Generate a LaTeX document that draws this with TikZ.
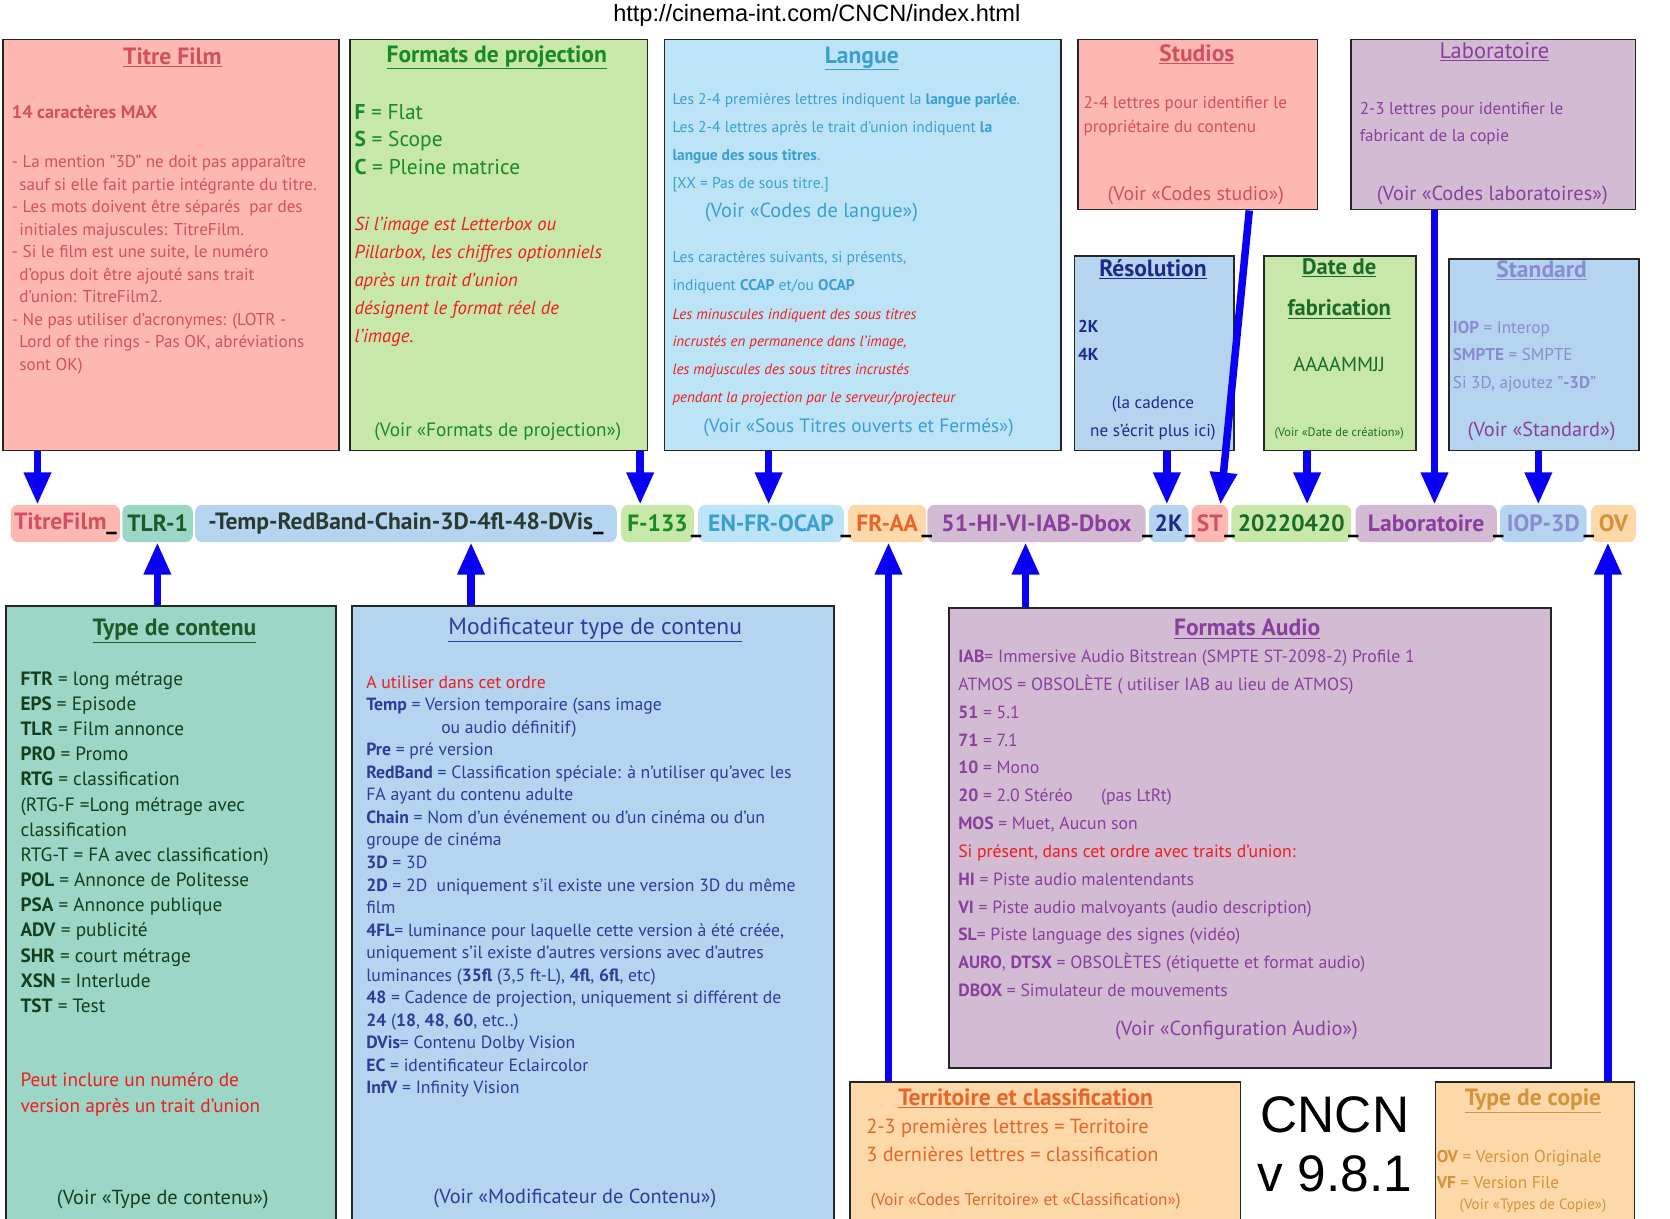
\documentclass[tikz,border=0pt]{standalone}
\usepackage{fontspec}
\setmainfont{PT Sans}
\newfontfamily\arialf{Liberation Sans}
\usetikzlibrary{arrows.meta,calc}
\definecolor{cSal}{HTML}{FDB9B1}\definecolor{tSal}{HTML}{D24F62}
\definecolor{cGrn}{HTML}{C8E8AA}\definecolor{tGrn}{HTML}{178A25}
\definecolor{cLbl}{HTML}{BDE3F6}\definecolor{tLbl}{HTML}{3A9FCF}
\definecolor{cPur}{HTML}{D3BBD4}\definecolor{tPur}{HTML}{8A3E9E}
\definecolor{cBlu}{HTML}{B4D4EF}\definecolor{tNav}{HTML}{1E2A86}
\definecolor{tDgr}{HTML}{1A6B2A}\definecolor{tStd}{HTML}{8A8CCF}
\definecolor{cTea}{HTML}{9CD6C7}\definecolor{tTea}{HTML}{1E5A28}
\definecolor{tMod}{HTML}{2C3C98}
\definecolor{cOrg}{HTML}{FDD8A8}\definecolor{tOrg}{HTML}{E8642B}\definecolor{tCop}{HTML}{D4923A}
\definecolor{tRed}{HTML}{EE1C1C}\definecolor{tBar}{HTML}{2A3A30}
\definecolor{aBlue}{HTML}{0A00F5}
\tikzset{
 x=1pt,y=-1pt,
 box/.style={draw=black!85,line width=1.6pt,anchor=north west,inner sep=0},
 ttl/.style={font=\fontsize{22}{26}\selectfont\bfseries,anchor=base,inner sep=0},
 txt/.style={align=left,anchor=base west,inner sep=0},
 txtm/.style={align=left,anchor=north west,inner sep=0},
 seg/.style={rounded corners=7pt,minimum height=35pt,anchor=west,inner sep=0,font=\fontsize{22}{26}\selectfont\bfseries},
 arr/.style={draw=aBlue,line width=7pt,-{Triangle[width=24pt,length=30pt]}},
}
\begin{document}
\begin{tikzpicture}
\useasboundingbox (0,0) rectangle (1560,1138);
\node[font=\arialf\fontsize{22}{26}\selectfont,anchor=base] (url) at (763,20) {http://cinema-int.com/CNCN/index.html};
% boxes
\node[box,fill=cSal,minimum width=314,minimum height=384] (tf) at (2,36) {};
\node[box,fill=cGrn,minimum width=278,minimum height=384] (fp) at (326,36) {};
\node[box,fill=cLbl,minimum width=370,minimum height=384] (la) at (620,36) {};
\node[box,fill=cSal,minimum width=224,minimum height=159] (st) at (1006,36) {};
\node[box,fill=cPur,minimum width=266,minimum height=159] (lb) at (1261,36) {};
\node[box,fill=cBlu,minimum width=149,minimum height=182] (rs) at (1003,238) {};
\node[box,fill=cGrn,minimum width=142,minimum height=182] (dt) at (1180,238) {};
\node[box,fill=cBlu,minimum width=177,minimum height=179] (sd) at (1353,241) {};
\node[box,fill=cTea,minimum width=308,minimum height=575] (tc) at (5,565) {};
\node[box,fill=cBlu,minimum width=450,minimum height=575] (mc) at (328,565) {};
\node[box,fill=cPur,minimum width=562,minimum height=430] (au) at (886,567) {};
\node[box,fill=cOrg,minimum width=365,minimum height=130] (tr) at (793,1010) {};
\node[box,fill=cOrg,minimum width=186,minimum height=130] (cp) at (1340,1010) {};
% Titre film
\node[ttl,text=tSal] (tft) at (161,60) {\underline{Titre Film}};
\node[txt,text=tSal,font=\fontsize{17}{21}\selectfont\bfseries] (tf1) at (11,111) {14 caractères MAX};
\node[txtm,text=tSal,font=\fontsize{16}{21}\selectfont] (tf2) at (11,145) {- La mention "3D" ne doit pas apparaître\\
\hspace*{7pt}sauf si elle fait partie intégrante du titre.\\
- Les mots doivent être séparés \ par des\\
\hspace*{7pt}initiales majuscules: TitreFilm.\\
- Si le film est une suite, le numéro\\
\hspace*{7pt}d'opus doit être ajouté sans trait\\
\hspace*{7pt}d'union: TitreFilm2.\\
- Ne pas utiliser d’acronymes: (LOTR -\\
\hspace*{7pt}Lord of the rings - Pas OK, abréviations\\
\hspace*{7pt}sont OK)};
% Formats de projection
\node[ttl,text=tGrn] (fpt) at (464,58) {\underline{Formats de projection}};
\node[txtm,text=tGrn,font=\fontsize{20}{26}\selectfont] (fp1) at (331,97) {\textbf{F} = Flat\\\textbf{S} = Scope\\\textbf{C} = Pleine matrice};
\node[txtm,text=tRed,font=\fontsize{17.5}{26}\selectfont\itshape] (fp2) at (331,203) {Si l’image est Letterbox ou\\Pillarbox, les chiffres optionniels\\après un trait d'union\\désignent le format réel de\\l'image.};
\node[text=tGrn,font=\fontsize{18}{22}\selectfont,anchor=base,inner sep=0] (fp3) at (465,408) {(Voir «Formats de projection»)};
% Langue
\node[ttl,text=tLbl] (lat) at (805,59) {\underline{Langue}};
\node[txtm,text=tLbl,font=\fontsize{14.5}{26}\selectfont] (la1) at (628,87) {Les 2-4 premières lettres indiquent la \textbf{langue parlée}.\\Les 2-4 lettres après le trait d'union indiquent \textbf{la}\\\textbf{langue des sous titres}.\\{[XX = Pas de sous titre.]}};
\node[text=tLbl,font=\fontsize{19}{22}\selectfont,anchor=base,inner sep=0] (la2) at (758,203) {(Voir «Codes de langue»)};
\node[txtm,text=tLbl,font=\fontsize{14.5}{26}\selectfont] (la3) at (628,235) {Les caractères suivants, si présents,\\indiquent \textbf{CCAP} et/ou \textbf{OCAP}};
\node[txtm,text=tRed,font=\fontsize{14}{26}\selectfont\itshape] (la4) at (628,288) {Les minuscules indiquent des sous titres\\incrustés en permanence dans l'image,\\les majuscules des sous titres incrustés\\pendant la projection par le serveur/projecteur};
\node[text=tLbl,font=\fontsize{18}{22}\selectfont,anchor=base,inner sep=0] (la5) at (802,404) {(Voir «Sous Titres ouverts et Fermés»)};
% Studios
\node[ttl,text=tSal] (stt) at (1118,57) {\underline{Studios}};
\node[txtm,text=tSal,font=\fontsize{16}{22}\selectfont] (st1) at (1012,90) {2-4 lettres pour identifier le\\propriétaire du contenu};
\node[text=tSal,font=\fontsize{18.5}{22}\selectfont,anchor=base,inner sep=0] (st2) at (1117,187) {(Voir «Codes studio»)};
% Laboratoire
\node[ttl,text=tPur,font=\fontsize{21}{26}\selectfont] (lbt) at (1396,55) {\underline{Laboratoire}};
\node[txtm,text=tPur,font=\fontsize{16}{26}\selectfont] (lb1) at (1270,95) {2-3 lettres pour identifier le\\fabricant de la copie};
\node[text=tPur,font=\fontsize{19}{22}\selectfont,anchor=base,inner sep=0] (lb2) at (1394,187) {(Voir «Codes laboratoires»)};
% Resolution
\node[ttl,text=tNav] (rst) at (1077,258) {\underline{Résolution}};
\node[txtm,text=tNav,font=\fontsize{16}{26}\selectfont\bfseries] (rs1) at (1007,299) {2K\\4K};
\node[text=tNav,font=\fontsize{16}{26}\selectfont,align=center,anchor=north,inner sep=0] (rs2) at (1077,370) {(la cadence\\ne s’écrit plus ici)};
% Date
\node[text=tDgr,font=\fontsize{21}{39}\selectfont\bfseries,align=center,anchor=north,inner sep=0] (dtt) at (1251,241) {\underline{Date de}\\\underline{fabrication}};
\node[text=tDgr,font=\fontsize{19}{22}\selectfont,anchor=base,inner sep=0] (dt1) at (1251,347) {AAAAMMJJ};
\node[text=tDgr,font=\fontsize{11.5}{14}\selectfont,anchor=base,inner sep=0] (dt2) at (1251,408) {(Voir «Date de création»)};
% Standard
\node[ttl,text=tStd] (sdt) at (1440,259) {\underline{Standard}};
\node[txtm,text=tStd,font=\fontsize{16}{25.5}\selectfont] (sd1) at (1357,300) {\textbf{IOP} = Interop\\\textbf{SMPTE} = SMPTE\\Si 3D, ajoutez "\textbf{-3D}"};
\node[text=tPur,font=\fontsize{19}{22}\selectfont,anchor=base,inner sep=0] (sd2) at (1440,408) {(Voir «Standard»)};
% Type de contenu
\node[ttl,text=tTea] (tct) at (163,594) {\underline{Type de contenu}};
\node[txtm,text=tTea!70!black,font=\fontsize{18}{23.5}\selectfont] (tc1) at (19,627) {\textbf{FTR} = long métrage\\\textbf{EPS} = Episode\\\textbf{TLR} = Film annonce\\\textbf{PRO} = Promo\\\textbf{RTG} = classification\\(RTG-F =Long métrage avec\\classification\\RTG-T = FA avec classification)\\\textbf{POL} = Annonce de Politesse\\\textbf{PSA} = Annonce publique\\\textbf{ADV} = publicité\\\textbf{SHR} = court métrage\\\textbf{XSN} = Interlude\\\textbf{TST} = Test};
\node[txtm,text=tRed,font=\fontsize{18}{24}\selectfont] (tc2) at (19,1002) {Peut inclure un numéro de\\version après un trait d'union};
\node[text=tTea!70!black,font=\fontsize{19}{22}\selectfont,anchor=base,inner sep=0] (tc3) at (152,1125) {(Voir «Type de contenu»)};
% Modificateur
\node[text=tMod,font=\fontsize{22}{26}\selectfont,anchor=base,inner sep=0] (mct) at (556,593) {\underline{Modificateur type de contenu}};
\node[txt,text=tRed,font=\fontsize{16.5}{21}\selectfont] (mc0) at (342,643) {A utiliser dans cet ordre};
\node[txtm,text=tMod,font=\fontsize{16.5}{21.05}\selectfont] (mc1) at (342,652) {\textbf{Temp} = Version temporaire (sans image\\\hspace*{70pt}ou audio définitif)\\\textbf{Pre} = pré version\\\textbf{RedBand} = Classification spéciale: à n’utiliser qu’avec les\\FA ayant du contenu adulte\\\textbf{Chain} = Nom d’un événement ou d’un cinéma ou d’un\\groupe de cinéma\\\textbf{3D} = 3D\\\textbf{2D} = 2D \ uniquement s’il existe une version 3D du même\\film\\\textbf{4FL}= luminance pour laquelle cette version à été créée,\\uniquement s’il existe d’autres versions avec d’autres\\luminances (\textbf{35fl} (3,5 ft-L), \textbf{4fl}, \textbf{6fl}, etc)\\\textbf{48} = Cadence de projection, uniquement si différent de\\\textbf{24} (\textbf{18}, \textbf{48}, \textbf{60}, etc..)\\\textbf{DVis}= Contenu Dolby Vision\\\textbf{EC} = identificateur Eclaircolor\\\textbf{InfV} = Infinity Vision};
\node[text=tMod,font=\fontsize{19}{22}\selectfont,anchor=base,inner sep=0] (mc2) at (537,1124) {(Voir «Modificateur de Contenu»)};
% Audio
\node[ttl,text=tPur] (aut) at (1165,594) {\underline{Formats Audio}};
\node[txtm,text=tPur,font=\fontsize{16.5}{26}\selectfont] (au1) at (895,607) {\textbf{IAB}= Immersive Audio Bitstrean (SMPTE ST-2098-2) Profile 1\\ATMOS = OBSOLÈTE ( utiliser IAB au lieu de ATMOS)\\\textbf{51} = 5.1\\\textbf{71} = 7.1\\\textbf{10} = Mono\\\textbf{20} = 2.0 Stéréo \hspace{22pt}(pas LtRt)\\\textbf{MOS} = Muet, Aucun son\\\textcolor{tRed}{Si présent, dans cet ordre avec traits d'union:}\\\textbf{HI} = Piste audio malentendants\\\textbf{VI} = Piste audio malvoyants (audio description)\\\textbf{SL}= Piste language des signes (vidéo)\\\textbf{AURO}, \textbf{DTSX} = OBSOLÈTES (étiquette et format audio)\\\textbf{DBOX} = Simulateur de mouvements};
\node[text=tPur,font=\fontsize{19}{22}\selectfont,anchor=base,inner sep=0] (au2) at (1155,967) {(Voir «Configuration Audio»)};
% Territoire
\node[ttl,text=tOrg] (trt) at (958,1033) {\underline{Territoire et classification}};
\node[txtm,text=tOrg,font=\fontsize{19}{26}\selectfont] (tr1) at (809,1045) {2-3 premières lettres = Territoire\\3 dernières lettres = classification};
\node[text=tOrg,font=\fontsize{16}{20}\selectfont,anchor=base,inner sep=0] (tr2) at (958,1126) {(Voir «Codes Territoire» et «Classification»)};
% CNCN
\node[font=\arialf\fontsize{48}{55}\selectfont,align=center,anchor=north,inner sep=0] (cn) at (1247,1024) {CNCN\\v 9.8.1};
% Type de copie
\node[ttl,text=tCop] (cpt) at (1432,1033) {\underline{Type de copie}};
\node[txtm,text=tCop,font=\fontsize{16}{24.5}\selectfont] (cp1) at (1342,1074) {\textbf{OV} = Version Originale\\\textbf{VF} = Version File};
\node[text=tCop,font=\fontsize{14}{18}\selectfont,anchor=base,inner sep=0] (cp2) at (1432,1130) {(Voir «Types de Copie»)};
% bar
\node[seg,fill=cSal,text=tSal,minimum width=102] (s1) at (10,489) {TitreFilm\textcolor{black}{\_}};
\node[seg,fill=cTea,text=tTea,minimum width=66] (s2) at (114,489) {TLR-1};
\node[seg,fill=cBlu,text=tBar,minimum width=394] (s3) at (182,489) {-Temp-RedBand-Chain-3D-4fl-48-DVis\textcolor{black}{\_}};
\node[seg,fill=cGrn,text=tGrn,minimum width=68] (s4) at (580,489) {F-133};
\node[seg,fill=cLbl,text=tLbl,minimum width=136] (s5) at (652,489) {EN-FR-OCAP};
\node[seg,fill=cOrg,text=tOrg,minimum width=73] (s6) at (792,489) {FR-AA};
\node[seg,fill=cPur,text=tPur,minimum width=204] (s7) at (866,489) {51-HI-VI-IAB-Dbox};
\node[seg,fill=cBlu,text=tNav,minimum width=37] (s9) at (1073,489) {2K};
\node[seg,fill=cSal,text=tSal,minimum width=34] (s10) at (1113,489) {ST};
\node[seg,fill=cGrn,text=tDgr,minimum width=112] (s11) at (1150,489) {20220420};
\node[seg,fill=cPur,text=tPur,minimum width=132] (s12) at (1266,489) {Laboratoire};
\node[seg,fill=cBlu,text=tStd,minimum width=81] (s13) at (1401,489) {IOP-3D};
\node[seg,fill=cOrg,text=tCop,minimum width=42] (s14) at (1486,489) {OV};
\foreach \a/\b in {s4/s5,s5/s6,s6/s7,s7/s9,s9/s10,s10/s11,s11/s12,s12/s13,s13/s14}
  \node[font=\fontsize{22}{26}\selectfont\bfseries,anchor=base,inner sep=0] at ($(\a.east)!0.5!(\b.west)+(0,8)$) {\_};
% arrows down
\draw[arr] ([xshift=33]tf.south west) -- ([xshift=25]s1.north west);
\draw[arr] ([xshift=272]fp.south west) -- ([xshift=18]s4.north west);
\draw[arr] ([xshift=98]la.south west) -- ([xshift=66]s5.north west);
\draw[arr] ([xshift=87]rs.south west) -- ([xshift=17]s9.north west);
\draw[arr] ([xshift=161]st.south west) -- ([xshift=27]s10.north west);
\draw[arr] ([xshift=41]dt.south west) -- ([xshift=71]s11.north west);
\draw[arr] ([xshift=79]lb.south west) -- ([xshift=74]s12.north west);
\draw[arr] ([xshift=84]sd.south west) -- ([xshift=36]s13.north west);
% arrows up
\draw[arr] ([xshift=142]tc.north west) -- ([xshift=33]s2.south west);
\draw[arr] ([xshift=112]mc.north west) -- ([xshift=258]s3.south west);
\draw[arr] ([xshift=37]tr.north west) -- ([xshift=38]s6.south west);
\draw[arr] ([xshift=72]au.north west) -- ([xshift=92]s7.south west);
\draw[arr] ([xshift=162]cp.north west) -- ([xshift=16]s14.south west);
\end{tikzpicture}
\end{document}
